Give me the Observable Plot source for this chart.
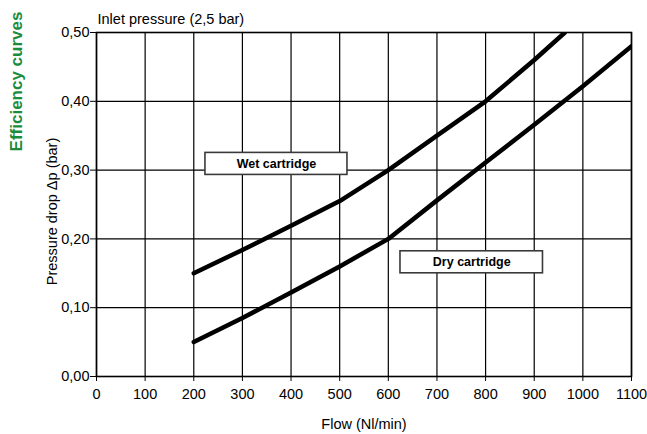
<!DOCTYPE html>
<html>
<head>
<meta charset="utf-8">
<script src="https://cdn.jsdelivr.net/npm/d3@7"></script>
<script src="https://cdn.jsdelivr.net/npm/@observablehq/plot@0.6"></script>
<style>
  html, body { margin: 0; padding: 0; background: #fff; }
  svg { display: block; }
</style>
</head>
<body>
<div id="chart"></div>
<script>
// Data
const flowWet = [200, 300, 400, 500, 600, 700, 800, 900, 963];
const dropWet = [0.150, 0.184, 0.219, 0.255, 0.300, 0.350, 0.400, 0.460, 0.500];
const flowDry = [200, 300, 400, 500, 600, 700, 800, 900, 1000, 1100];
const dropDry = [0.050, 0.085, 0.122, 0.160, 0.200, 0.256, 0.311, 0.366, 0.422, 0.480];

const xTicks = [0, 100, 200, 300, 400, 500, 600, 700, 800, 900, 1000, 1100];
const yTicks = [0, 0.1, 0.2, 0.3, 0.4, 0.5];

const labelText = ["Wet cartridge", "Dry cartridge"];
const labelX1 = [224, 625];
const labelX2 = [516, 918];
const labelY1 = [0.293, 0.150];
const labelY2 = [0.325, 0.182];

const title = "Efficiency curves";
const subtitle = "Inlet pressure (2,5 bar)";
const xLabel = "Flow (Nl/min)";
const yLabel = "Pressure drop Δp (bar)";

const wet = flowWet.map((x, i) => ({x, y: dropWet[i]}));
const dry = flowDry.map((x, i) => ({x, y: dropDry[i]}));
const boxes = labelText.map((t, i) => ({t, x1: labelX1[i], x2: labelX2[i], y1: labelY1[i], y2: labelY2[i]}));

const font = "'Liberation Sans', Arial, Helvetica, sans-serif";

const chart = Plot.plot({
  width: 647,
  height: 434,
  marginLeft: 96,
  marginRight: 16,
  marginTop: 32,
  marginBottom: 58,
  style: {fontFamily: font, fontSize: "14.5px", color: "#000", background: "#fff"},
  x: {domain: [0, 1100]},
  y: {domain: [0, 0.5]},
  marks: [
    Plot.gridX(xTicks, {stroke: "#000", strokeOpacity: 1, strokeWidth: 1.2}),
    Plot.gridY(yTicks, {stroke: "#000", strokeOpacity: 1, strokeWidth: 1.2}),
    Plot.frame({stroke: "#000", strokeWidth: 1.6}),
    Plot.axisX({ticks: xTicks, tickSize: 5, tickPadding: 7, tickFormat: d => String(d), label: null, fontSize: 14.5, stroke: "#000"}),
    Plot.axisY({ticks: yTicks, tickSize: 6, tickPadding: 1, tickFormat: d => d.toFixed(2).replace(".", ","), label: null, fontSize: 14.5, stroke: "#000"}),
    Plot.line(wet, {x: "x", y: "y", stroke: "#000", strokeWidth: 4.5, clip: true}),
    Plot.line(dry, {x: "x", y: "y", stroke: "#000", strokeWidth: 4.5, clip: true}),
    Plot.rect(boxes, {x1: "x1", x2: "x2", y1: "y1", y2: "y2", fill: "#fff", stroke: "#3a3a3a", strokeWidth: 1.6}),
    Plot.text(boxes, {x: d => (d.x1 + d.x2) / 2, y: d => (d.y1 + d.y2) / 2, text: "t", fontWeight: "bold", fontSize: 12.5, fill: "#000"}),
    Plot.text([subtitle], {frameAnchor: "top-left", text: d => d, textAnchor: "start", lineAnchor: "bottom", dx: 1, dy: -9, fontSize: 14.5, fill: "#000"}),
    Plot.text([title], {frameAnchor: "top-left", text: d => d, rotate: -90, textAnchor: "middle", lineAnchor: "middle", dx: -80, dy: 49, fontSize: 17, fontWeight: "bold", fill: "#1a8c3c"}),
    Plot.text([yLabel], {frameAnchor: "left", text: d => d, rotate: -90, textAnchor: "middle", lineAnchor: "middle", dx: -44, dy: 7, fontSize: 14.5, fill: "#000"}),
    Plot.text([xLabel], {frameAnchor: "bottom", text: d => d, textAnchor: "middle", lineAnchor: "middle", dx: 0, dy: 48, fontSize: 14.5, fill: "#000"})
  ]
});
document.getElementById("chart").appendChild(chart);
</script>
</body>
</html>
